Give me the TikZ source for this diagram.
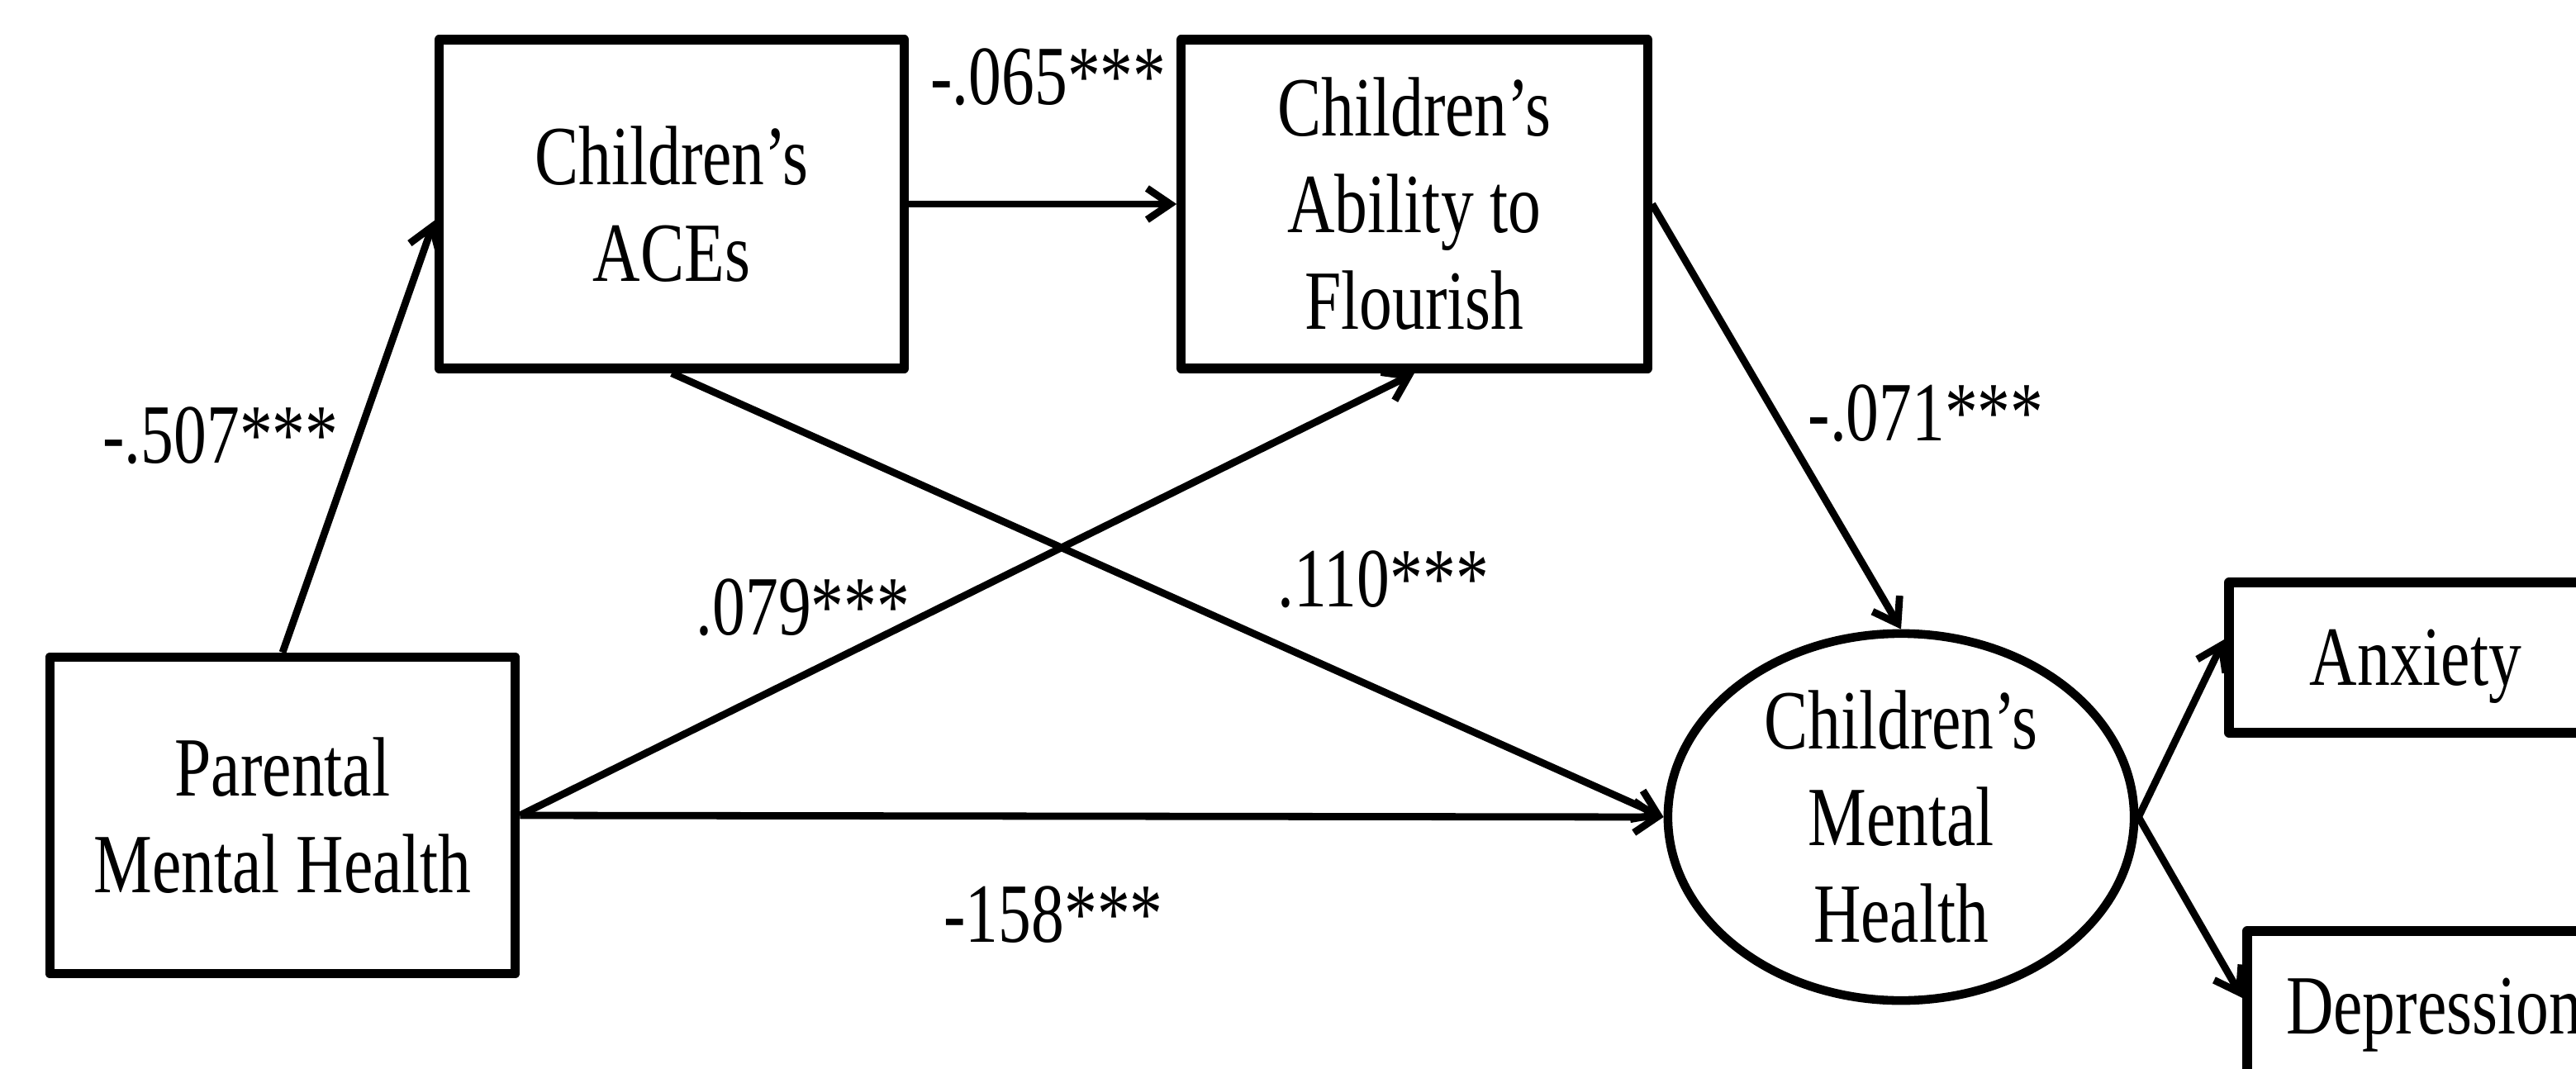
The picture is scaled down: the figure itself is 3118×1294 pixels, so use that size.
\documentclass[tikz,border=0pt]{standalone}
\usepackage{fontspec}
\setmainfont{Liberation Serif}[FakeStretch=0.78]
\usetikzlibrary{arrows.meta,shapes.geometric,calc}

\begin{document}
\begin{tikzpicture}[
    x = 0.01cm, y = -0.01cm,
    line join=round,
    font = \fontsize{29}{33.3}\selectfont,
    varbox/.style = {draw, line width=3.2pt, align=center, inner sep=0pt},
    latent/.style = {draw, ellipse, line width=3pt, align=center, inner sep=0pt, minimum width=5.64cm, minimum height=4.44cm},
    pathline/.style = {line width=2.5pt, -{Straight Barb[length=2.8mm, width=3.8mm]}},
    coef/.style = {anchor=base, inner sep=0pt}
]

\useasboundingbox (0,0) rectangle (3118,1294);
\clip (0,0) rectangle (3118,1294);

\node[varbox, minimum width=5.63cm, minimum height=3.98cm] (aces) at (813,247) {Children's\\ACEs};
\node[varbox, minimum width=5.64cm, minimum height=3.98cm] (flourish) at (1712,247) {Children's\\Ability to\\Flourish};
\node[varbox, minimum width=5.63cm, minimum height=3.83cm] (parental) at (342,987) {Parental\\Mental Health};
\node[latent] (mh) at (2301,989) {Children's\\Mental\\Health};
\node[varbox, text depth=0pt, minimum width=4.52cm, minimum height=1.82cm] (anxiety) at (2924,796) {Anxiety};
\node[varbox, text depth=0pt, minimum width=4.52cm, minimum height=1.82cm] (depression) at (2946,1218) {Depression};

\draw[pathline] (parental.north) -- ($(aces.west)+(0,20)$);
\draw[pathline] (aces.east) -- (flourish.west);
\draw[pathline] (aces.south) -- (mh.west);
\draw[pathline] (parental.east) -- (flourish.south);
\draw[pathline] (parental.east) -- (mh.west);
\draw[pathline] (flourish.east) -- (mh.north);
\draw[pathline] (mh.east) -- ($(anxiety.west)+(0,-22)$);
\draw[pathline] (mh.east) -- ($(depression.west)+(0,-10)$);

\node[coef] (c1) at (267,560) {-.507***};
\node[coef] (c2) at (1269,127) {-.065***};
\node[coef] (c3) at (2331,533) {-.071***};
\node[coef] (c4) at (972,768) {.079***};
\node[coef] (c5) at (1674,734) {.110***};
\node[coef] (c6) at (1275,1140) {-158***};

\end{tikzpicture}
\end{document}
